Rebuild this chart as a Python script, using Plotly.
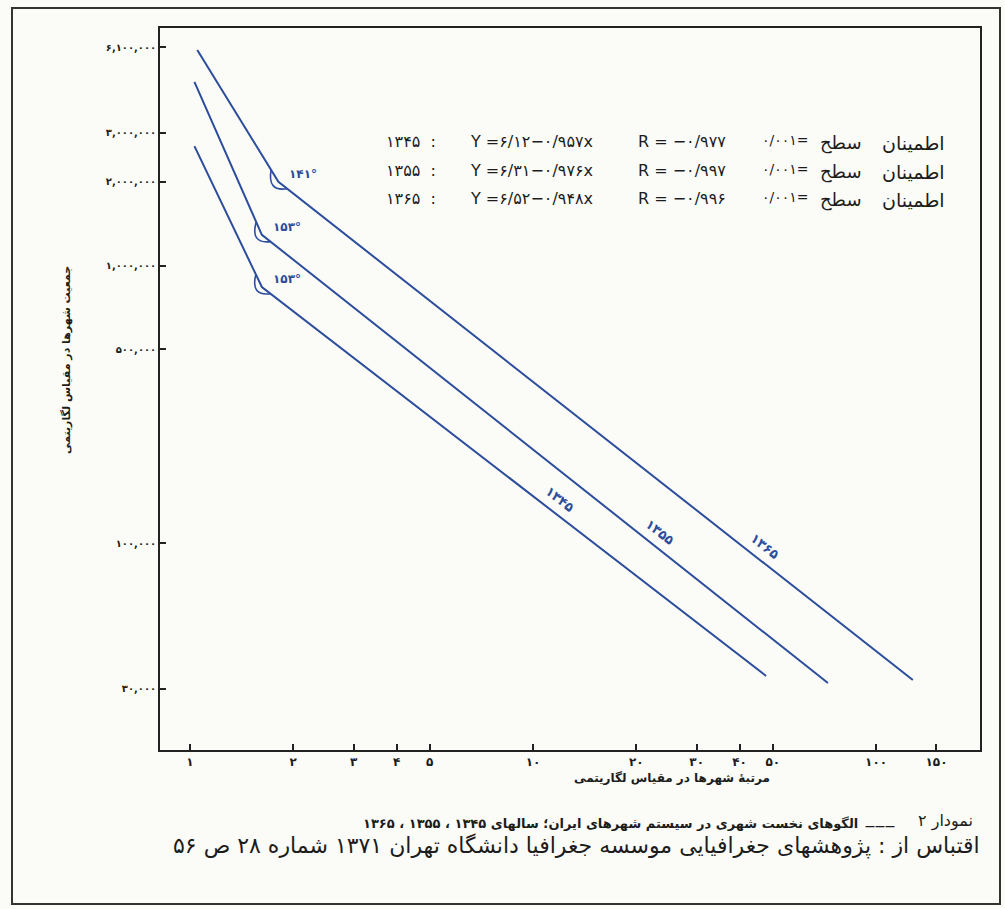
import numpy as np
import plotly.graph_objects as go

# ---------------- data ----------------
years = ["۱۳۴۵", "۱۳۵۵", "۱۳۶۵"]
# rank / population at start, break point and end of each broken line
ranks_1345 = [1.03, 1.62, 47.8]
pop_1345 = [2690000, 837000, 33300]
ranks_1355 = [1.03, 1.62, 72.4]
pop_1355 = [4580000, 1290000, 31400]
ranks_1365 = [1.05, 1.81, 128]
pop_1365 = [5970000, 2000000, 32200]
break_angles = ["۱۵۳°", "۱۵۳°", "۱۴۱°"]
label_ranks = [12.0, 23.5, 47.5]

x_tickvals = [1, 2, 3, 4, 5, 10, 20, 30, 40, 50, 100, 150]
x_ticktext = ["۱", "۲", "۳", "۴", "۵", "۱۰", "۲۰", "۳۰", "۴۰", "۵۰", "۱۰۰", "۱۵۰"]
y_tickvals = [30000, 100000, 500000, 1000000, 2000000, 3000000, 6100000]
y_ticktext = ["۳۰,۰۰۰", "۱۰۰,۰۰۰", "۵۰۰,۰۰۰", "۱,۰۰۰,۰۰۰", "۲,۰۰۰,۰۰۰", "۳,۰۰۰,۰۰۰", "۶,۱۰۰,۰۰۰"]

eq_years = ["۱۳۴۵  :", "۱۳۵۵  :", "۱۳۶۵  :"]
eq_y = ["Y =۶/۱۲−۰/۹۵۷x", "Y =۶/۳۱−۰/۹۷۶x", "Y =۶/۵۲−۰/۹۴۸x"]
eq_r = ["R = −۰/۹۷۷", "R = −۰/۹۹۷", "R = −۰/۹۹۶"]
eq_sig = ["۰/۰۰۱=", "۰/۰۰۱=", "۰/۰۰۱="]

x_title = "مرتبهٔ شهرها در مقیاس لگاریتمی"
y_title = "جمعیت شهرها در مقیاس لگاریتمی"
caption_num = "نمودار ۲"
caption_main = "الگوهای نخست شهری در سیستم شهرهای ایران؛ سالهای ۱۳۴۵ ، ۱۳۵۵ ، ۱۳۶۵"
source_text = "اقتباس از : پژوهشهای جغرافیایی موسسه جغرافیا دانشگاه تهران ۱۳۷۱ شماره ۲۸ ص ۵۶"

# ---------------- layout constants ----------------
W, H = 1005, 909
ML, MR, MT, MB = 160, 25, 28, 159
PW, PH = W - ML - MR, H - MT - MB
XR = [-0.0875, 2.303]
YR = [4.256, 6.855]
px_dec_x = PW / (XR[1] - XR[0])
px_dec_y = PH / (YR[1] - YR[0])

BLUE = "#2c4d9c"
INK = "#1c1c1c"
FONT = "DejaVu Sans"

series = [(ranks_1345, pop_1345), (ranks_1355, pop_1355), (ranks_1365, pop_1365)]

fig = go.Figure()
for (rk, pp), yr in zip(series, years):
    fig.add_trace(go.Scatter(x=rk, y=pp, mode="lines", name=yr,
                             line=dict(color=BLUE, width=2), showlegend=False,
                             hoverinfo="skip"))

annotations = []
shapes = []


def unit_px(r0, p0, r1, p1):
    dx = (np.log10(r1) - np.log10(r0)) * px_dec_x
    dy = (np.log10(p1) - np.log10(p0)) * px_dec_y  # up positive
    n = np.hypot(dx, dy)
    return dx / n, dy / n


for (rk, pp), yr, ang, lr in zip(series, years, break_angles, label_ranks):
    # year label along the line
    ly = np.interp(np.log10(lr), np.log10(rk), np.log10(pp))
    annotations.append(dict(x=np.log10(lr), y=ly, xref="x", yref="y", text="<b>%s</b>" % yr,
                            showarrow=False, textangle=38, yshift=18,
                            font=dict(family=FONT, size=13, color=BLUE)))
    # angle value at the break
    annotations.append(dict(x=np.log10(rk[1]), y=np.log10(pp[1]), xref="x", yref="y",
                            text="<b>%s</b>" % ang, showarrow=False, xanchor="left",
                            xshift=9, yshift=8, font=dict(family=FONT, size=12, color=BLUE)))
    # small lens marking the angle
    ux, uy = unit_px(rk[1], pp[1], rk[0], pp[0])      # up the steep part
    vx, vy = unit_px(rk[1], pp[1], rk[2], pp[2])      # down the flat part
    ax_, ay_ = 14 * ux, 14 * uy
    bx_, by_ = 11 * vx, 11 * vy
    bis_x, bis_y = -(ux + vx), -(uy + vy)
    nb = np.hypot(bis_x, bis_y)
    cx_, cy_ = 15 * bis_x / nb, 15 * bis_y / nb
    path = "M %.1f,%.1f Q %.1f,%.1f %.1f,%.1f" % (ax_, ay_, cx_, cy_, bx_, by_)
    shapes.append(dict(type="path", xref="x", yref="y", xsizemode="pixel", ysizemode="pixel",
                       xanchor=rk[1], yanchor=pp[1], path=path,
                       line=dict(color=BLUE, width=1.6)))


def px2paper_x(px):
    return (px - ML) / PW


def px2paper_y(py):
    return (H - MB - py) / PH


row_y = [130, 159, 187]
for i in range(3):
    yy = px2paper_y(row_y[i])
    annotations.append(dict(x=px2paper_x(384), y=yy, xref="paper", yref="paper", xanchor="left",
                            text=eq_years[i], showarrow=False,
                            font=dict(family=FONT, size=16, color=INK)))
    annotations.append(dict(x=px2paper_x(468), y=yy, xref="paper", yref="paper", xanchor="left",
                            text=eq_y[i], showarrow=False,
                            font=dict(family=FONT, size=16, color=INK)))
    annotations.append(dict(x=px2paper_x(636), y=yy, xref="paper", yref="paper", xanchor="left",
                            text=eq_r[i], showarrow=False,
                            font=dict(family=FONT, size=16, color=INK)))
    annotations.append(dict(x=px2paper_x(760), y=yy, xref="paper", yref="paper", xanchor="left",
                            text=eq_sig[i], showarrow=False,
                            font=dict(family=FONT, size=14, color=INK)))
    annotations.append(dict(x=px2paper_x(818), y=yy, xref="paper", yref="paper", xanchor="left",
                            text="سطح", showarrow=False,
                            font=dict(family=FONT, size=18, color=INK)))
    annotations.append(dict(x=px2paper_x(947), y=yy, xref="paper", yref="paper", xanchor="right",
                            text="اطمینان", showarrow=False,
                            font=dict(family=FONT, size=19, color=INK)))

# axis titles
annotations.append(dict(x=px2paper_x(672), y=px2paper_y(787), xref="paper", yref="paper",
                        xanchor="center", text="<b>%s</b>" % x_title, showarrow=False,
                        font=dict(family=FONT, size=12, color=INK)))
annotations.append(dict(x=px2paper_x(66), y=px2paper_y(360), xref="paper", yref="paper",
                        xanchor="center", yanchor="middle",
                        text="<b>%s</b>" % y_title, showarrow=False, textangle=-90,
                        font=dict(family=FONT, size=11, color=INK)))
# captions
annotations.append(dict(x=px2paper_x(975), y=px2paper_y(833), xref="paper", yref="paper",
                        xanchor="right", text=caption_num, showarrow=False,
                        font=dict(family=FONT, size=16, color=INK)))
annotations.append(dict(x=px2paper_x(897), y=px2paper_y(834), xref="paper", yref="paper",
                        xanchor="right", text="<b>———</b>", showarrow=False,
                        font=dict(family=FONT, size=10, color=INK)))
annotations.append(dict(x=px2paper_x(860), y=px2paper_y(833), xref="paper", yref="paper",
                        xanchor="right", text="<b>%s</b>" % caption_main, showarrow=False,
                        font=dict(family=FONT, size=13, color=INK)))
annotations.append(dict(x=px2paper_x(982), y=px2paper_y(861), xref="paper", yref="paper",
                        xanchor="right", text=source_text, showarrow=False,
                        font=dict(family=FONT, size=22, color=INK)))

# outer page frame
shapes.append(dict(type="rect", xref="paper", yref="paper",
                   x0=px2paper_x(12), x1=px2paper_x(1000),
                   y0=px2paper_y(904), y1=px2paper_y(8),
                   line=dict(color="#333333", width=2)))

axis_common = dict(type="log", showgrid=False, zeroline=False, showline=True, mirror=True,
                   linecolor="#222222", linewidth=1.6, ticks="inside", ticklen=6,
                   tickwidth=1.5, tickcolor="#222222")

fig.update_layout(
    width=W, height=H,
    margin=dict(l=ML, r=MR, t=MT, b=MB),
    paper_bgcolor="#fbfbf8", plot_bgcolor="#fbfbf8",
    xaxis=dict(range=XR, tickvals=x_tickvals, ticktext=["<b>%s</b>" % t for t in x_ticktext],
               tickfont=dict(family=FONT, size=12, color=INK), **axis_common),
    yaxis=dict(range=YR, tickvals=y_tickvals, ticktext=["<b>%s</b>" % t for t in y_ticktext],
               tickfont=dict(family=FONT, size=10, color=INK), **axis_common),
    annotations=annotations,
    shapes=shapes,
    showlegend=False,
)

fig.write_html("out.html", config={"displayModeBar": False},
               post_script="document.body.style.margin='0px';document.body.style.overflow='hidden';")
